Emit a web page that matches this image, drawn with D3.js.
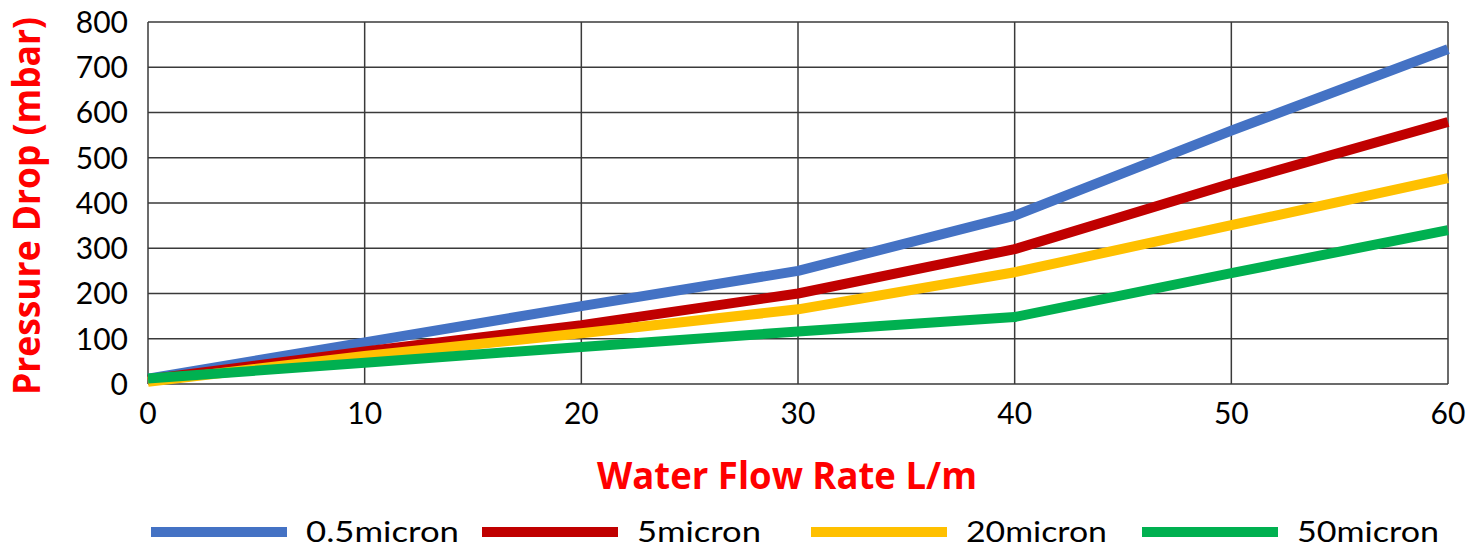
<!DOCTYPE html>
<html><head><meta charset="utf-8">
<script src="https://cdn.jsdelivr.net/npm/d3@7"></script>
<style>body{margin:0;background:#fff}svg{display:block}</style>
</head><body>
<svg id="c" width="1483" height="549"></svg>
<script>
const flow = [0, 10, 20, 30, 40, 50, 60];
const seriesNames = ["0.5micron", "5micron", "20micron", "50micron"];
const seriesColors = ["#4472C4", "#C00000", "#FFC000", "#00B050"];
const s05 = [12, 92, 172, 250, 372, 560, 740];
const s5 = [10, 72, 130, 200, 298, 443, 579];
const s20 = [5, 62, 112, 165, 247, 351, 455];
const s50 = [12, 47, 82, 116, 148, 245, 340];
const xTicks = [0, 10, 20, 30, 40, 50, 60];
const yTicks = [0, 100, 200, 300, 400, 500, 600, 700, 800];
const allSeries = [s05, s5, s20, s50];

const svg = d3.select("#c");
const L = 148, R = 1448, T = 22, B = 384;
const x = d3.scaleLinear().domain([0, 60]).range([L, R]);
const y = d3.scaleLinear().domain([0, 800]).range([B, T]);
const font = "Lato, 'Open Sans', sans-serif";

// gridlines
svg.append("g").selectAll("line").data(yTicks).join("line")
  .attr("x1", L).attr("x2", R).attr("y1", d => y(d)).attr("y2", d => y(d))
  .attr("stroke", "#3a3a3a").attr("stroke-width", 1.5);
svg.append("g").selectAll("line").data(xTicks).join("line")
  .attr("y1", T).attr("y2", B).attr("x1", d => x(d)).attr("x2", d => x(d))
  .attr("stroke", "#3a3a3a").attr("stroke-width", 1.5);

// tick labels
svg.append("g").selectAll("text").data(yTicks).join("text")
  .attr("x", 128).attr("y", d => y(d)).attr("dy", "0.36em")
  .attr("text-anchor", "end").attr("font-family", font).attr("font-size", 30)
  .attr("fill", "#000").text(d => d);
svg.append("g").selectAll("text").data(xTicks).join("text")
  .attr("x", d => x(d)).attr("y", 424)
  .attr("text-anchor", "middle").attr("font-family", font).attr("font-size", 30)
  .attr("fill", "#000").text(d => d);

// lines
const line = d3.line().x((d, i) => x(flow[i])).y(d => y(d));
svg.append("g").selectAll("path").data(allSeries).join("path")
  .attr("d", d => line(d)).attr("fill", "none")
  .attr("stroke", (d, i) => seriesColors[i]).attr("stroke-width", 10)
  .attr("stroke-linejoin", "round");

// axis titles
svg.append("text").attr("x", 787).attr("y", 489).attr("text-anchor", "middle")
  .attr("font-family", "'Open Sans', sans-serif").attr("font-weight", "bold").attr("font-size", 37)
  .attr("fill", "#FF0000").attr("textLength", 380).attr("lengthAdjust", "spacingAndGlyphs")
  .text("Water Flow Rate L/m");
svg.append("text").attr("transform", "translate(40,206) rotate(-90)").attr("text-anchor", "middle")
  .attr("font-family", "'Open Sans', sans-serif").attr("font-weight", "bold").attr("font-size", 37)
  .attr("fill", "#FF0000").attr("textLength", 378).attr("lengthAdjust", "spacingAndGlyphs")
  .text("Pressure Drop (mbar)");

// legend
const legX = [151, 482, 811, 1142];
const legW = [153, 124, 141, 142];
const lg = svg.append("g").selectAll("g").data(seriesNames).join("g")
  .attr("transform", (d, i) => `translate(${legX[i]},532)`);
lg.append("line").attr("x1", 0).attr("x2", 136).attr("y1", 0).attr("y2", 0)
  .attr("stroke", (d, i) => seriesColors[i]).attr("stroke-width", 10);
lg.append("text").attr("x", 155).attr("y", 10)
  .attr("font-family", font).attr("font-size", 29).attr("fill", "#000")
  .attr("textLength", (d, i) => legW[i]).attr("lengthAdjust", "spacingAndGlyphs")
  .text(d => d);
</script>
</body></html>
